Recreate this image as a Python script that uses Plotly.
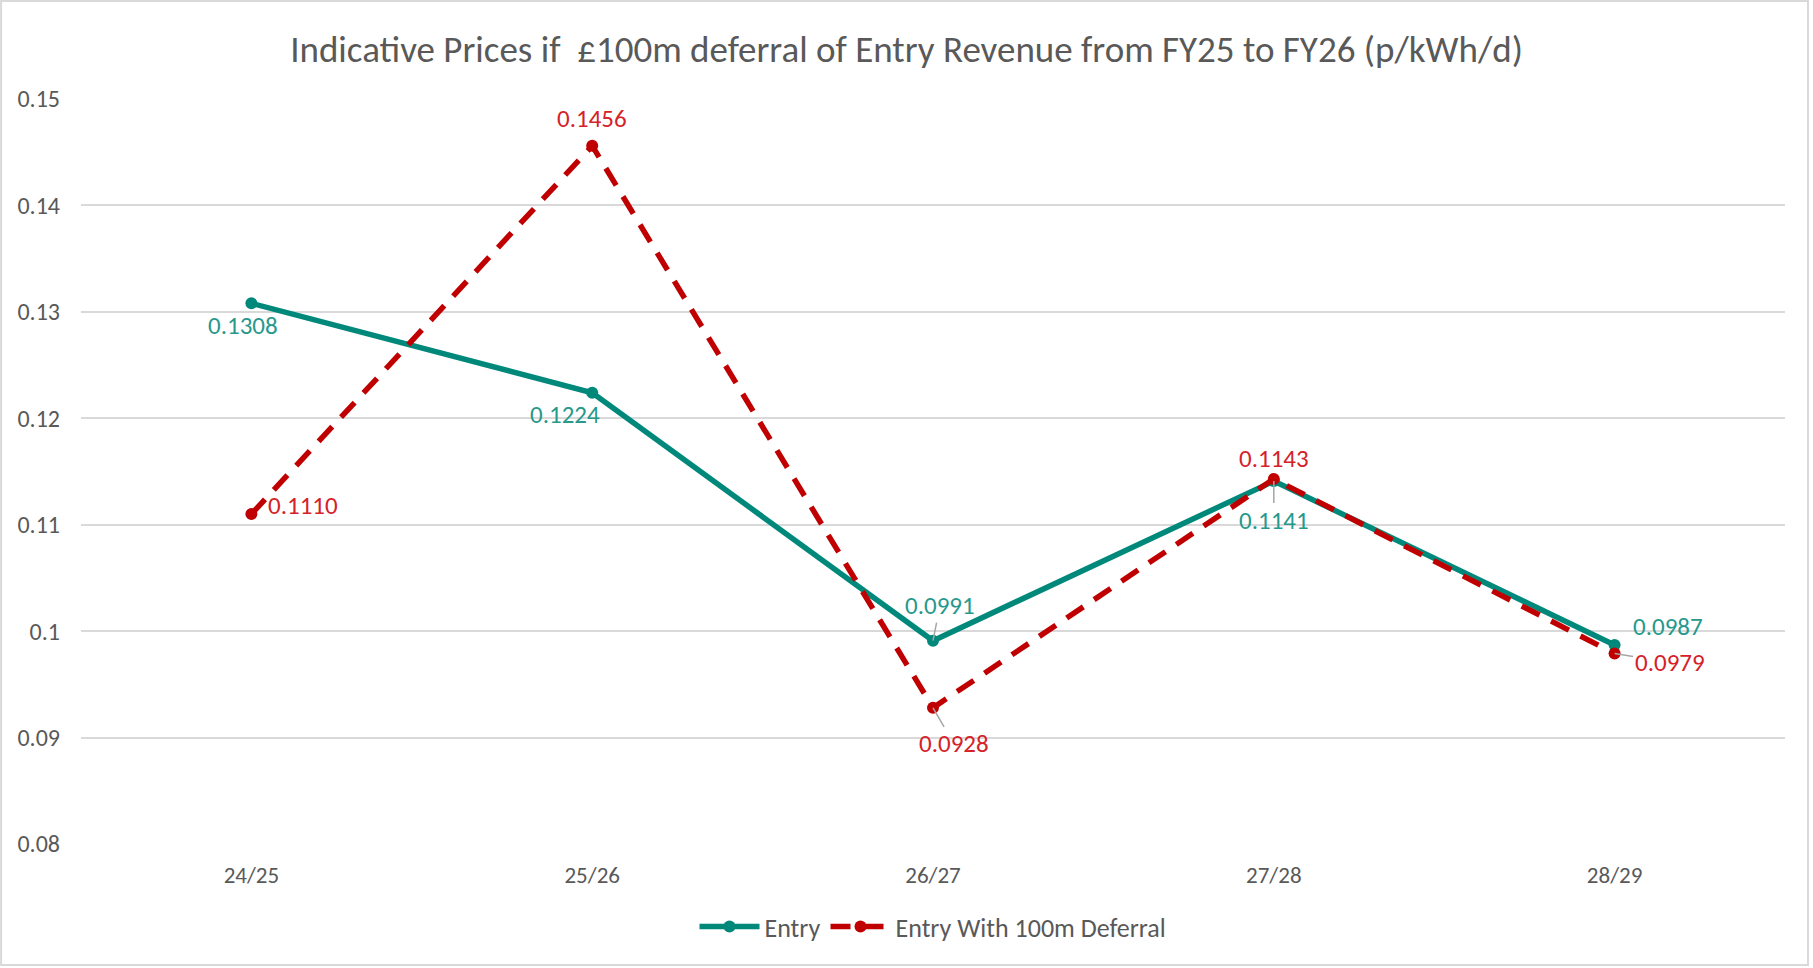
import plotly.graph_objects as go

years = ["24/25", "25/26", "26/27", "27/28", "28/29"]
entry = [0.1308, 0.1224, 0.0991, 0.1141, 0.0987]
deferral = [0.1110, 0.1456, 0.0928, 0.1143, 0.0979]

TEAL = "#00897B"
TEAL_TXT = "#26998C"
RED = "#C00000"
RED_TXT = "#D42228"
GREY = "#595959"
FONT = "Carlito, Lato, Liberation Sans"

# label offsets in pixels (dx, dy) and whether a leader line is drawn
entry_lbl = [(-8, 22, False), (-27, 22, False), (7, -35, True), (0, 39, True), (53, -18, False)]
def_lbl = [(52, -9, False), (0, -27, False), (21, 36, True), (0, -20, False), (55, 9, True)]

fig = go.Figure()
fig.add_trace(go.Scatter(
    x=years, y=entry, mode="lines+markers", name="Entry",
    line=dict(color=TEAL, width=5.5),
    marker=dict(size=12, color=TEAL),
))
fig.add_trace(go.Scatter(
    x=years, y=deferral, mode="lines+markers", name="Entry With 100m Deferral",
    line=dict(color=RED, width=5.5, dash="20px,13px"),
    marker=dict(size=12, color=RED),
))


def add_labels(vals, offsets, color):
    for x, v, (dx, dy, lead) in zip(years, vals, offsets):
        if lead:
            fig.add_annotation(
                x=x, y=v, text=f"{v:.4f}", showarrow=True,
                ax=dx, ay=dy, arrowhead=0, arrowwidth=1.5, arrowcolor="#A6A6A6",
                font=dict(color=color, size=25, family=FONT),
            )
        else:
            fig.add_annotation(
                x=x, y=v, text=f"{v:.4f}", showarrow=False,
                xshift=dx, yshift=-dy,
                font=dict(color=color, size=25, family=FONT),
            )


add_labels(entry, entry_lbl, TEAL_TXT)
add_labels(deferral, def_lbl, RED_TXT)

fig.add_shape(
    type="rect", xref="paper", yref="paper",
    x0=-0.0469, x1=1.0135, y0=-0.1624, y1=1.1315,
    line=dict(color="#D9D9D9", width=2), layer="below",
)

fig.update_layout(
    width=1813, height=968,
    margin=dict(l=81, r=28, t=99, b=124),
    paper_bgcolor="white", plot_bgcolor="white",
    font=dict(family=FONT, color=GREY, size=24),
    title=dict(
        text="Indicative Prices if  £100m deferral of Entry Revenue from FY25 to FY26 (p/kWh/d)",
        x=0.5, xref="container", xanchor="center",
        y=1 - 49 / 968, yref="container", yanchor="middle",
        font=dict(size=37, color=GREY, family=FONT),
    ),
    xaxis=dict(
        range=[-0.5, 4.5],
        showgrid=False, showline=False, zeroline=False,
        ticklabelstandoff=15, tickfont=dict(size=23, color=GREY),
    ),
    yaxis=dict(
        range=[0.08, 0.15], dtick=0.01, tick0=0.08,
        showgrid=True, gridcolor="#D9D9D9", gridwidth=1.5,
        zeroline=False, showline=False,
        ticklabelstandoff=20, tickfont=dict(size=24, color=GREY),
    ),
    legend=dict(
        orientation="h", x=0.5, xanchor="center", y=-0.111, yanchor="middle",
        font=dict(size=26, color=GREY), itemwidth=60,
    ),
    showlegend=True,
)

fig.write_html(
    "out.html",
    config={"displayModeBar": False},
    post_script="document.body.style.margin='0';",
)
